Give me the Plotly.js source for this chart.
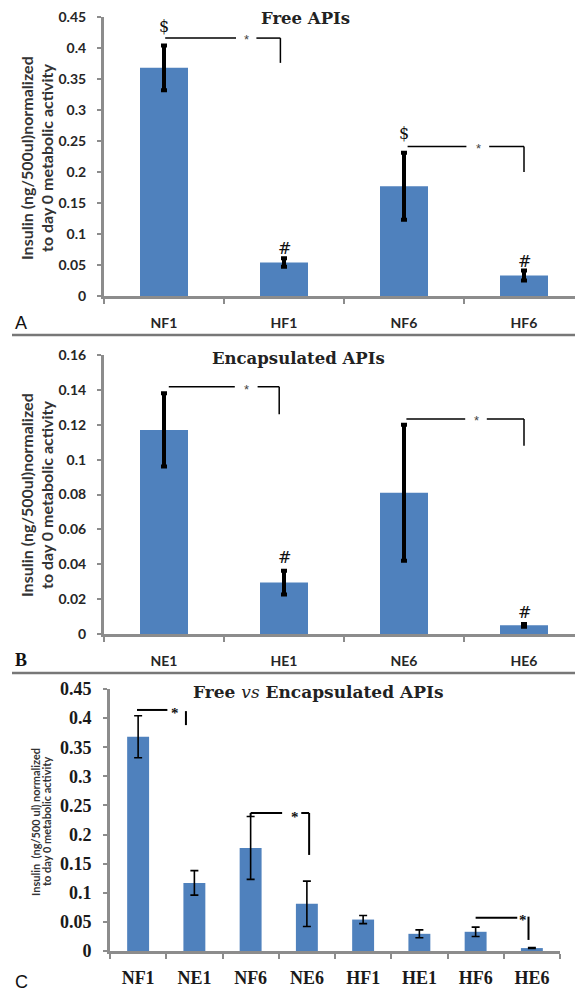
<!DOCTYPE html>
<html>
<head>
<meta charset="utf-8">
<script src="https://cdn.plot.ly/plotly-3.0.1.min.js"></script>
<style>html,body{margin:0;padding:0;background:#fff}#chart{width:575px;height:994px}</style>
</head>
<body>
<div id="chart"></div>
<script>
// ---- data ----
const catsFree = ['NF1', 'HF1', 'NF6', 'HF6'];
const valsFree = [0.368, 0.054, 0.177, 0.033];
const errFree  = [0.036, 0.007, 0.054, 0.008];

const catsEnc = ['NE1', 'HE1', 'NE6', 'HE6'];
const valsEnc = [0.117, 0.0295, 0.081, 0.005];
const errEnc  = [0.021, 0.0068, 0.039, 0.0008];

const catsAll = ['NF1', 'NE1', 'NF6', 'NE6', 'HF1', 'HE1', 'HF6', 'HE6'];

const ticksA = [0, 0.05, 0.1, 0.15, 0.2, 0.25, 0.3, 0.35, 0.4, 0.45];
const tickTextA = ['0', '0.05', '0.1', '0.15', '0.2', '0.25', '0.3', '0.35', '0.4', '0.45'];
const ticksB = [0, 0.02, 0.04, 0.06, 0.08, 0.1, 0.12, 0.14, 0.16];
const tickTextB = ['0', '0.02', '0.04', '0.06', '0.08', '0.1', '0.12', '0.14', '0.16'];

// panel C combines both sets
const lookupV = {}, lookupE = {};
catsFree.forEach((c, i) => { lookupV[c] = valsFree[i]; lookupE[c] = errFree[i]; });
catsEnc.forEach((c, i) => { lookupV[c] = valsEnc[i]; lookupE[c] = errEnc[i]; });
const valsAll = catsAll.map(c => lookupV[c]);
const errAll = catsAll.map(c => lookupE[c]);

// ---- styling ----
const W = 575, H = 994;
const px = x => x / W;
const py = y => 1 - y / H;
const BLUE = '#4F81BD';
const GRAY = '#8c8c8c';
const sansB = 'Lato, "Open Sans", sans-serif';
const serif = '"DejaVu Serif", serif';
const times = '"Liberation Serif", "Times New Roman", serif';

const traces = [
  {type: 'bar', x: catsFree, y: valsFree, xaxis: 'x', yaxis: 'y', width: 0.4,
   marker: {color: BLUE},
   error_y: {type: 'data', array: errFree, visible: true, color: '#000', thickness: 4, width: 3}},
  {type: 'bar', x: catsEnc, y: valsEnc, xaxis: 'x2', yaxis: 'y2', width: 0.4,
   marker: {color: BLUE},
   error_y: {type: 'data', array: errEnc, visible: true, color: '#000', thickness: 4, width: 3}},
  {type: 'bar', x: catsAll, y: valsAll, xaxis: 'x3', yaxis: 'y3', width: 0.39,
   marker: {color: BLUE},
   error_y: {type: 'data', array: errAll, visible: true, color: '#000', thickness: 1.6, width: 4}}
];

function yax(domain, range, vals, text, font, standoff) {
  return {domain: domain, range: range, tickvals: vals, ticktext: text,
    ticks: 'outside', ticklen: 4, tickwidth: 2, tickcolor: GRAY,
    showline: true, linecolor: GRAY, linewidth: 3, showgrid: false, zeroline: false,
    tickfont: font, ticklabelstandoff: standoff, fixedrange: true};
}
function xax(domain, range, anchor, font, standoff) {
  return {type: 'category', domain: domain, range: range, anchor: anchor,
    ticks: 'outside', tickson: 'boundaries', ticklen: 5, tickwidth: 2, tickcolor: GRAY,
    showline: true, linecolor: GRAY, linewidth: 3, showgrid: false, zeroline: false,
    tickfont: font, ticklabelstandoff: standoff, fixedrange: true};
}

const fontAB = {family: sansB, size: 14, color: '#262626', weight: 700};
const fontC = {family: times, size: 18, color: '#1a1a1a', weight: 700};

const layout = {
  width: W, height: H, margin: {l: 0, r: 0, t: 0, b: 0},
  paper_bgcolor: '#fff', plot_bgcolor: '#fff', showlegend: false,
  xaxis: xax([px(104), 1], [-0.5, 3.425], 'y', fontAB, 12),
  yaxis: yax([py(296), py(17)], [0, 0.45], ticksA, tickTextA, fontAB, 8),
  xaxis2: xax([px(104), 1], [-0.5, 3.425], 'y2', fontAB, 12),
  yaxis2: yax([py(634), py(355)], [0, 0.16], ticksB, tickTextB, fontAB, 8),
  xaxis3: xax([px(110), px(560)], [-0.5, 7.5], 'y3', fontC, 8),
  yaxis3: yax([py(951), py(689)], [0, 0.45], ticksA, tickTextA, fontC, 8),
  shapes: [], annotations: []
};
layout.yaxis.anchor = 'x';
layout.yaxis2.anchor = 'x2';
layout.yaxis3.anchor = 'x3';

const S = layout.shapes, A = layout.annotations;
function seg(xr, yr, x0, y0, x1, y1, w) {
  S.push({type: 'line', xref: xr, yref: yr, x0: x0, y0: y0, x1: x1, y1: y1,
          line: {color: '#000', width: w || 1.5}});
}
function txt(xr, yr, x, y, t, font, extra) {
  A.push(Object.assign({xref: xr, yref: yr, x: x, y: y, text: t, showarrow: false,
    xanchor: 'center', yanchor: 'middle', font: font}, extra || {}));
}

// panel separators
seg('paper', 'paper', px(12), py(335), 1, py(335), 2.5);
S[S.length - 1].line.color = '#777';
seg('paper', 'paper', px(12), py(673), 1, py(673), 2.5);
S[S.length - 1].line.color = '#777';

// titles
const titleFont = {family: serif, size: 16.5, color: '#222', weight: 700};
txt('paper', 'paper', px(305), py(18), 'Free APIs', titleFont);
txt('paper', 'paper', px(298), py(358), 'Encapsulated APIs', titleFont);
txt('paper', 'paper', px(318), py(692), 'Free <i style="font-weight:400">vs</i> Encapsulated APIs', {family: serif, size: 17, color: '#222', weight: 700});

// y-axis titles
const ytA = {family: sansB, size: 16, color: '#333', weight: 700};
txt('paper', 'paper', px(26), py(158), 'Insulin (ng/500ul)normalized', ytA, {textangle: -90});
txt('paper', 'paper', px(46), py(158), 'to day 0 metabolic activity', ytA, {textangle: -90});
txt('paper', 'paper', px(26), py(495), 'Insulin (ng/500ul)normalized', ytA, {textangle: -90});
txt('paper', 'paper', px(46), py(495), 'to day 0 metabolic activity', ytA, {textangle: -90});
const ytC = {family: sansB, size: 11, color: '#333', weight: 700};
txt('paper', 'paper', px(35), py(822), 'Insulin&nbsp;&nbsp;(ng/500 ul) normalized', ytC, {textangle: -90});
txt('paper', 'paper', px(46), py(822), 'to day 0 metabolic activity', ytC, {textangle: -90});

// panel letters
const letterFont = {family: '"Liberation Sans", sans-serif', size: 18, color: '#111'};
txt('paper', 'paper', px(21), py(323), 'A', letterFont);
txt('paper', 'paper', px(21), py(660), 'B', {family: '"Liberation Serif", serif', size: 18, color: '#111', weight: 700});
txt('paper', 'paper', px(21), py(982), 'C', letterFont);

// significance marks panel A
const markFont = {family: serif, size: 16, color: '#111'};
const starFont = {family: '"Liberation Sans", sans-serif', size: 13, color: '#444'};
seg('x', 'y', 0.01, 0.416, 0.60, 0.416);
seg('x', 'y', 0.77, 0.416, 0.97, 0.416);
seg('x', 'y', 0.97, 0.416, 0.97, 0.376);
txt('x', 'y', 0.685, 0.413, '*', starFont);
txt('x', 'y', 0.0, 0.434, '$', markFont);
seg('x', 'y', 2.03, 0.241, 2.52, 0.241);
seg('x', 'y', 2.71, 0.241, 3.0, 0.241);
seg('x', 'y', 3.0, 0.241, 3.0, 0.200);
txt('x', 'y', 2.62, 0.238, '*', starFont);
txt('x', 'y', 2.0, 0.262, '$', markFont);
txt('x', 'y', 1.0, 0.077, '#', markFont);
txt('x', 'y', 3.0, 0.056, '#', markFont);

// panel B
seg('x2', 'y2', 0.04, 0.1418, 0.59, 0.1418);
seg('x2', 'y2', 0.78, 0.1418, 0.96, 0.1418);
seg('x2', 'y2', 0.96, 0.1418, 0.96, 0.126);
txt('x2', 'y2', 0.69, 0.1405, '*', starFont);
seg('x2', 'y2', 2.02, 0.1233, 2.51, 0.1233);
seg('x2', 'y2', 2.69, 0.1233, 3.0, 0.1233);
seg('x2', 'y2', 3.0, 0.1233, 3.0, 0.108);
txt('x2', 'y2', 2.6, 0.1222, '*', starFont);
txt('x2', 'y2', 1.0, 0.0438, '#', markFont);
txt('x2', 'y2', 3.0, 0.0125, '#', markFont);

// panel C
const starC = {family: times, size: 15, color: '#111', weight: 700};
seg('x3', 'y3', -0.02, 0.414, 0.52, 0.414, 2);
txt('x3', 'y3', 0.66, 0.408, '*', starC);
seg('x3', 'y3', 0.85, 0.412, 0.85, 0.388, 2);
seg('x3', 'y3', 2.0, 0.237, 2.56, 0.237, 2);
seg('x3', 'y3', 2.0, 0.237, 2.0, 0.231, 2);
txt('x3', 'y3', 2.78, 0.231, '*', starC);
seg('x3', 'y3', 2.9, 0.237, 3.04, 0.237, 2);
seg('x3', 'y3', 3.04, 0.237, 3.04, 0.165, 2);
seg('x3', 'y3', 6.0, 0.057, 6.74, 0.057, 2);
txt('x3', 'y3', 6.84, 0.053, '*', starC);
seg('x3', 'y3', 6.94, 0.059, 6.94, 0.019, 2);

Plotly.newPlot('chart', traces, layout, {staticPlot: true});
</script>
</body>
</html>
